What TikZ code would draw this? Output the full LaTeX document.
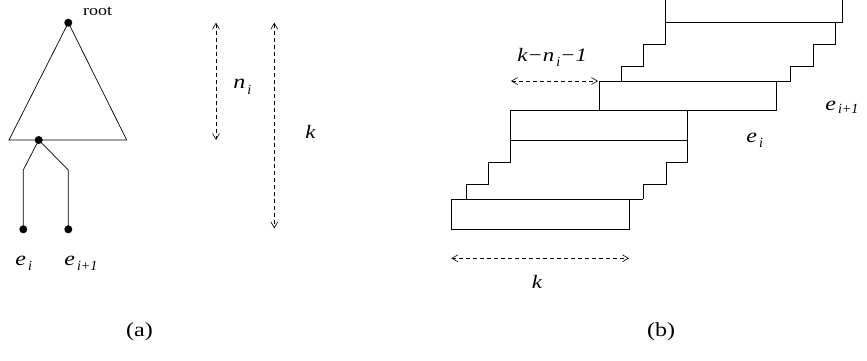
\documentclass[tikz,border=0pt]{standalone}
\usepackage{fontspec}
\setmainfont{Liberation Serif}
\newfontfamily\widefont[FakeStretch=1.2]{Liberation Serif}
\usetikzlibrary{arrows.meta}
\newcommand{\lbl}[3][5pt]{#2\hspace{2pt}\raisebox{-#1}{\normalfont\fontsize{14}{14}\selectfont\itshape #3}}
\begin{document}
\begin{tikzpicture}[x=1pt,y=-1pt, line width=0.7pt,
  dot/.style={circle,fill,inner sep=0pt,minimum size=8pt},
  dim/.style={dash pattern=on 4pt off 3pt, line width=0.6pt,
    {Straight Barb[length=6pt,width=7pt]}-{Straight Barb[length=6pt,width=7pt]}},
  lab/.style={inner sep=0pt, anchor=base west, font=\widefont\fontsize{20}{20}\selectfont\itshape},
  labk/.style={inner sep=0pt, anchor=base west, font=\widefont\fontsize{19}{19}\selectfont\itshape},
  captext/.style={inner sep=0pt, anchor=base, font=\widefont\fontsize{20}{20}\selectfont}]
\useasboundingbox (0,0) rectangle (867,360);
% ---------- (a) ----------
\node[dot] (root) at (68.3,22.7) {};
\coordinate (tl) at (9,140);
\coordinate (tr) at (126.7,140);
\draw (root.center) -- (tl) -- (tr) -- cycle;
\node[dot] (mid) at (38.7,140) {};
\coordinate (ba) at (23.3,170);
\coordinate (bb) at (68.3,170);
\node[dot] (ea) at (23.3,229.3) {};
\node[dot] (eb) at (68.3,229.3) {};
\draw (mid.center) -- (ba) -- (ea.center);
\draw (mid.center) -- (bb) -- (eb.center);
\node[inner sep=0pt, anchor=base west, font=\widefont\fontsize{15}{15}\selectfont] (rootlbl) at (82.7,15) {root};
\node[lab] (lea) at (15,265) {\lbl{e}{i}};
\node[lab] (leb) at (64,265) {\lbl{e}{i+1}};
\coordinate (nt) at (216,22.7);
\coordinate (nb) at (216,140);
\draw[dim] (nt) -- (nb);
\node[lab] (lni) at (233,88) {\lbl[6pt]{n}{i}};
\coordinate (kt) at (274.3,22.7);
\coordinate (kb) at (274.3,228.3);
\draw[dim] (kt) -- (kb);
\node[labk] (lka) at (305,138) {k};
\node[captext] (capa) at (139.5,336) {(a)};
% ---------- (b) ----------
\draw (665.7,0) -- (665.7,22.3) -- (842.3,22.3) -- (842.3,0);
\draw (665.7,22.3) -- (665.7,44.3) -- (643.3,44.3) -- (643.3,66.7) -- (621,66.7) -- (621,81);
\draw (835.7,22.3) -- (835.7,44.3) -- (813.3,44.3) -- (813.3,66.7) -- (790.7,66.7) -- (790.7,81);
\draw (599,81) -- (790.7,81);
\draw (599,81) rectangle (776,110.7);
\draw (510.7,110.7) rectangle (687.3,140);
\draw (510.7,140) -- (510.7,162.3) -- (488.7,162.3) -- (488.7,184.3) -- (466.3,184.3) -- (466.3,199.3);
\draw (687.3,140) -- (687.3,162.3) -- (666,162.3) -- (666,184.3) -- (643.3,184.3) -- (643.3,199.3);
\draw (451.3,199.3) -- (643.3,199.3);
\draw (451.3,199.3) rectangle (629,229);
\coordinate (sl) at (511,81);
\coordinate (sr) at (598,81);
\draw[dim] (sl) -- (sr);
\node[labk] (lknl) at (517,61.7) {k−\lbl{n}{i}−1};
\coordinate (kl) at (451.3,258.3);
\coordinate (kr) at (629,258.3);
\draw[dim] (kl) -- (kr);
\node[labk, anchor=base] (lkb) at (537,288) {k};
\node[lab] (lei) at (746,142) {\lbl{e}{i}};
\node[lab] (lei1) at (825,110) {\lbl[3pt]{e}{i+1}};
\node[captext] (capb) at (661,336) {(b)};
\end{tikzpicture}
\end{document}
